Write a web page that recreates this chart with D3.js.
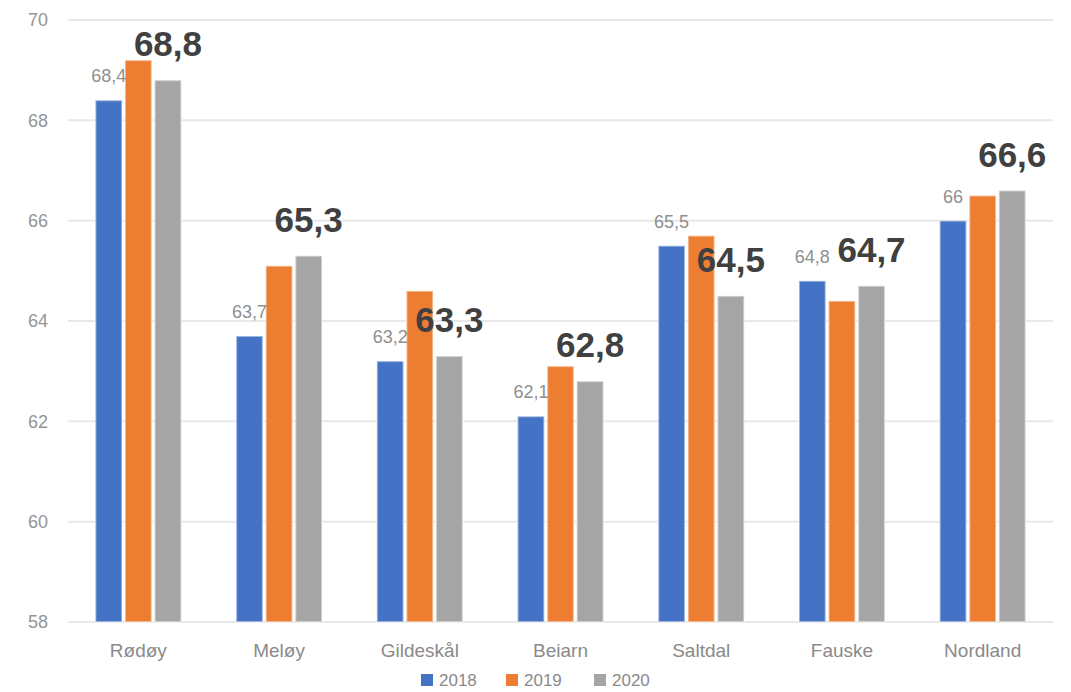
<!DOCTYPE html>
<html>
<head>
<meta charset="utf-8">
<script src="https://cdn.jsdelivr.net/npm/d3@7"></script>
<style>
  body { margin: 0; background: #fff; }
  svg text { font-family: "Liberation Sans", Arial, sans-serif; }
</style>
</head>
<body>
<svg id="chart" width="1071" height="692"></svg>
<script>
// data
var categories = ["Rødøy", "Meløy", "Gildeskål", "Beiarn", "Saltdal", "Fauske", "Nordland"];
var years = ["2018", "2019", "2020"];
var values2018 = [68.4, 63.7, 63.2, 62.1, 65.5, 64.8, 66];
var values2019 = [69.2, 65.1, 64.6, 63.1, 65.7, 64.4, 66.5];
var values2020 = [68.8, 65.3, 63.3, 62.8, 64.5, 64.7, 66.6];
var yTicks = [58, 60, 62, 64, 66, 68, 70];

var colors = ["#4472c4", "#ed7d31", "#a5a5a5"];
var series = [values2018, values2019, values2020];

function fmt(v) {
  return String(v).replace(".", ",");
}

var svg = d3.select("#chart");

var x0 = d3.scaleBand()
  .domain(categories)
  .range([68, 1053])
  .paddingInner(0.39)
  .paddingOuter(0.195);

var x1 = d3.scaleBand()
  .domain(years)
  .range([0, x0.bandwidth()])
  .paddingInner(0.1);

var y = d3.scaleLinear()
  .domain([58, 70])
  .range([622, 20]);

// gridlines
svg.append("g")
  .selectAll("line")
  .data(yTicks)
  .enter()
  .append("line")
  .attr("x1", 68)
  .attr("x2", 1053)
  .attr("y1", function(d) { return y(d); })
  .attr("y2", function(d) { return y(d); })
  .attr("stroke", "#e8e8e8")
  .attr("stroke-width", 2);

// y axis labels
var yAxis = d3.axisLeft(y).tickValues(yTicks).tickSize(0).tickPadding(20);
svg.append("g")
  .attr("transform", "translate(68,0)")
  .call(yAxis)
  .call(function(g) { g.select(".domain").remove(); })
  .selectAll("text")
  .attr("font-size", 18)
  .attr("fill", "#959595")
  .attr("font-family", "Liberation Sans, Arial, sans-serif");

// bars
var groups = svg.append("g")
  .selectAll("g")
  .data(categories)
  .enter()
  .append("g")
  .attr("transform", function(d) { return "translate(" + x0(d) + ",0)"; });

groups.selectAll("rect")
  .data(function(d, i) {
    return years.map(function(yr, j) { return {year: yr, value: series[j][i], idx: j}; });
  })
  .enter()
  .append("rect")
  .attr("x", function(d) { return x1(d.year); })
  .attr("y", function(d) { return y(d.value); })
  .attr("width", x1.bandwidth())
  .attr("height", function(d) { return y(58) - y(d.value); })
  .attr("fill", function(d) { return colors[d.idx]; })
  .attr("stroke", "#fff")
  .attr("stroke-opacity", 0.45)
  .attr("stroke-width", 2);

// small labels for 2018
groups.append("text")
  .attr("x", x1("2018") + x1.bandwidth() / 2)
  .attr("y", function(d, i) { return y(values2018[i]) - 18; })
  .attr("text-anchor", "middle")
  .attr("font-size", 18)
  .attr("fill", "#8f8f8f")
  .text(function(d, i) { return fmt(values2018[i]); });

// big labels for 2020
groups.append("text")
  .attr("x", x1("2020") + x1.bandwidth() / 2)
  .attr("y", function(d, i) { return y(values2020[i]) - 24; })
  .attr("text-anchor", "middle")
  .attr("font-size", 35)
  .attr("font-weight", "bold")
  .attr("fill", "#404040")
  .text(function(d, i) { return fmt(values2020[i]); });

// category labels
var xAxis = d3.axisBottom(x0).tickSize(0).tickPadding(22);
svg.append("g")
  .attr("transform", "translate(0,622)")
  .call(xAxis)
  .call(function(g) { g.select(".domain").remove(); })
  .selectAll("text")
  .attr("font-size", 19)
  .attr("fill", "#8a8a8a")
  .attr("font-family", "Liberation Sans, Arial, sans-serif");

// legend
var legendX = [421, 506, 594];
var legend = svg.append("g")
  .selectAll("g")
  .data(years)
  .enter()
  .append("g")
  .attr("transform", function(d, i) { return "translate(" + legendX[i] + ",674)"; });

legend.append("rect")
  .attr("width", 12)
  .attr("height", 12)
  .attr("fill", function(d, i) { return colors[i]; });

legend.append("text")
  .attr("x", 18)
  .attr("y", 12)
  .attr("font-size", 17)
  .attr("fill", "#8a8a8a")
  .text(function(d) { return d; });
</script>
</body>
</html>
